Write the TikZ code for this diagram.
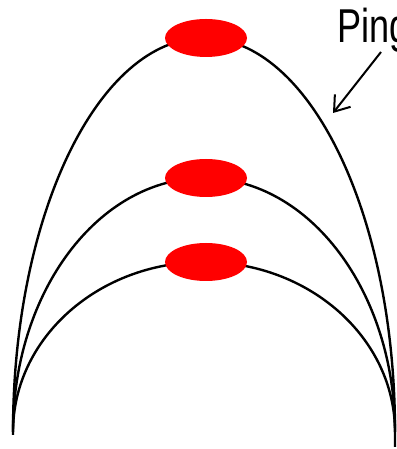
\documentclass[tikz,border=0pt]{standalone}
\usepackage{fontspec}
\setmainfont{Liberation Sans}
\usetikzlibrary{arrows.meta,shapes.geometric}
\begin{document}
\begin{tikzpicture}[x=1pt,y=1pt,
  arcline/.style={line width=2.4pt},
  blob/.style={ellipse,fill=red,minimum width=82pt,minimum height=38pt,inner sep=0pt},
  pointer/.style={line width=2pt,-{Straight Barb[length=14pt,width=20pt,line width=2pt]}}]
\useasboundingbox (0,0) rectangle (396,449);
\clip (0,0) rectangle (396,449);
\draw[arcline] (13,14) -- (13,17) arc[start angle=180,end angle=0,x radius=191,y radius=394] -- (395,2);
\draw[arcline] (13,17) arc[start angle=180,end angle=0,x radius=191,y radius=254];
\draw[arcline] (13,17) arc[start angle=180,end angle=0,x radius=191,y radius=170];
\node[blob] (e1) at (206,411) {};
\node[blob] (e2) at (206,271) {};
\node[blob] (e3) at (206,187) {};
\node[anchor=base west,inner sep=0pt,xscale=0.76,font=\fontsize{47.5}{50}\selectfont] (ping) at (337,406) {Ping};
\coordinate (tail) at (381,397);
\coordinate (tip) at (333,336);
\draw[pointer] (tail) -- (tip);
\end{tikzpicture}
\end{document}
